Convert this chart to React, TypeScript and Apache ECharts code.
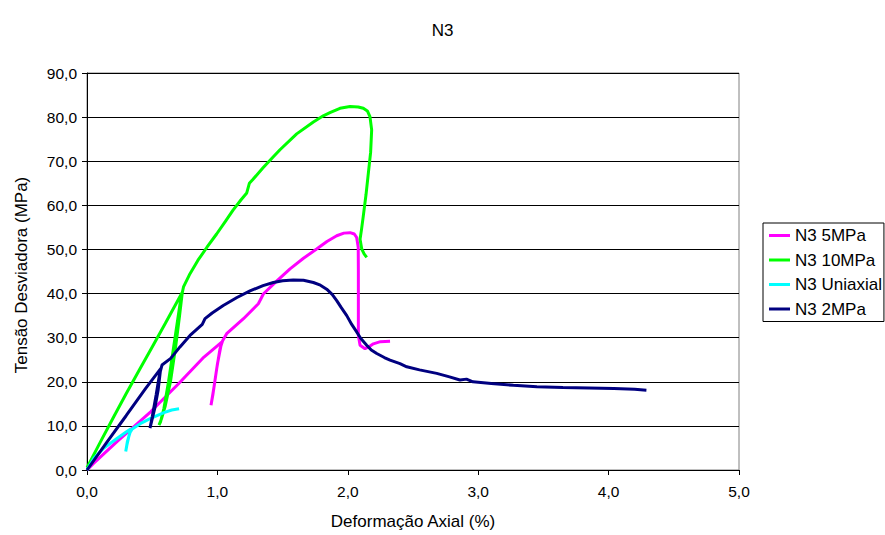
import React, { useEffect, useRef } from "react";
import * as echarts from "echarts";

const seriesNames = ["N3 5MPa", "N3 10MPa", "N3 Uniaxial", "N3 2MPa"];
const seriesColors = ["#FF00FF", "#00FF00", "#00FFFF", "#000080"];

const n3_5MPa: number[][] = [
  [0, 0], [0.05, 1.5], [0.232, 6.5], [0.488, 13.2], [0.7, 19.5], [0.897, 25.6], [1.033, 29.0],
  [1.0, 24], [0.975, 19], [0.951, 14.7], [0.965, 17], [0.995, 23], [1.02, 27.5], [1.04, 29.3],
  [1.071, 30.9], [1.2, 34.3], [1.314, 37.7], [1.33, 38.6], [1.352, 39.9], [1.45, 42.7], [1.557, 45.6],
  [1.66, 48.0], [1.761, 50.1], [1.84, 51.8], [1.915, 53.1], [1.97, 53.7], [2.017, 53.8], [2.05, 53.5],
  [2.068, 52.7], [2.08, 50.5], [2.081, 45], [2.081, 38], [2.081, 30.5], [2.094, 28.3], [2.132, 27.5],
  [2.16, 27.9], [2.196, 28.6], [2.25, 29.1], [2.324, 29.2],
];

const n3_10MPa: number[][] = [
  [0, 0.5], [0.1, 6.2], [0.2, 11.8], [0.3, 17.3], [0.4, 22.6], [0.5, 27.9], [0.6, 33.2], [0.731, 40.3],
  [0.71, 35], [0.68, 28], [0.64, 20], [0.6, 14.5], [0.57, 11.5], [0.552, 10.2], [0.565, 11], [0.59, 14],
  [0.625, 20], [0.66, 27], [0.69, 33], [0.715, 38], [0.74, 41.5], [0.79, 44.5], [0.85, 47.5], [0.92, 50.5],
  [0.994, 53.5], [1.06, 56.3], [1.12, 58.9], [1.18, 61.2], [1.225, 62.8], [1.245, 65.0], [1.27, 65.8],
  [1.35, 68.5], [1.429, 71.0], [1.48, 72.6], [1.608, 76.2], [1.736, 78.9], [1.812, 80.3], [1.863, 81.0],
  [1.94, 82.0], [2.017, 82.4], [2.08, 82.3], [2.119, 82.0], [2.15, 81.4], [2.17, 80.1], [2.183, 77.1],
  [2.175, 72], [2.158, 67.4], [2.14, 62.5], [2.119, 57.6], [2.105, 54.5], [2.094, 52.3], [2.107, 50.1],
  [2.125, 49], [2.145, 48.2],
];

const n3_Uniaxial: number[][] = [
  [0, 0], [0.054, 2.7], [0.13, 5.0], [0.232, 7.2], [0.3, 8.6], [0.335, 9.3], [0.32, 7.5], [0.305, 5.5],
  [0.297, 4.2], [0.31, 6.5], [0.33, 8.5], [0.347, 9.3], [0.42, 10.7], [0.488, 11.7], [0.59, 13.0],
  [0.65, 13.6], [0.706, 13.9],
];

const n3_2MPa: number[][] = [
  [0, 0], [0.15, 6.2], [0.3, 12.3], [0.45, 18.5], [0.565, 23.0], [0.545, 18], [0.52, 14], [0.483, 9.5],
  [0.5, 12], [0.53, 17], [0.555, 21.5], [0.575, 23.8], [0.642, 25.3], [0.713, 27.9], [0.79, 30.5],
  [0.85, 32.1], [0.884, 33.0], [0.905, 34.3], [0.96, 35.6], [1.045, 37.3], [1.15, 39.1], [1.25, 40.6],
  [1.35, 41.8], [1.429, 42.5], [1.5, 42.9], [1.582, 43.1], [1.66, 43.0], [1.736, 42.5], [1.79, 41.9],
  [1.838, 41.0], [1.88, 39.8], [1.915, 38.4], [1.95, 36.8], [1.992, 35.0], [2.03, 33.0], [2.068, 31.3],
  [2.1, 29.8], [2.145, 28.3], [2.18, 27.2], [2.222, 26.4], [2.28, 25.5], [2.324, 24.9], [2.4, 24.1],
  [2.452, 23.4], [2.55, 22.7], [2.682, 21.9], [2.78, 21.1], [2.86, 20.4], [2.91, 20.6], [2.96, 20.0],
  [3.1, 19.6], [3.27, 19.2], [3.45, 18.9], [3.65, 18.7], [3.85, 18.6], [4.04, 18.5], [4.2, 18.3],
  [4.29, 18.1],
];

const allData = [n3_5MPa, n3_10MPa, n3_Uniaxial, n3_2MPa];

const FONT = "Arial, 'Liberation Sans', sans-serif";
const fmt = (v: number) => v.toFixed(1).replace(".", ",");

export default function App() {
  const ref = useRef<HTMLDivElement>(null);
  useEffect(() => {
    if (!ref.current) return;
    const chart = echarts.init(ref.current, null, { renderer: "svg" });
    chart.setOption({
      animation: false,
      backgroundColor: "#fff",
      textStyle: { fontFamily: FONT, color: "#000" },
      title: {
        text: "N3",
        left: "center",
        top: 22,
        padding: 0,
        textStyle: { fontFamily: FONT, fontSize: 17, fontWeight: "normal", color: "#000" },
      },
      legend: {
        orient: "vertical",
        left: 763,
        top: 223,
        data: seriesNames,
        icon: "rect",
        itemWidth: 21,
        itemHeight: 3,
        itemGap: 7.5,
        padding: [4, 2, 4, 6],
        borderColor: "#000",
        borderWidth: 1,
        borderRadius: 0,
        textStyle: { fontFamily: FONT, fontSize: 17, color: "#000", padding: [0, 0, 0, 0] },
      },
      grid: {
        left: 87,
        top: 73,
        right: 146,
        bottom: 63,
        show: true,
        borderColor: "#808080",
        borderWidth: 1,
      },
      graphic: [
        {
          type: "text",
          x: 21,
          y: 275,
          rotation: Math.PI / 2,
          style: {
            text: "Tensão Desviadora (MPa)",
            fontFamily: FONT,
            fontSize: 17,
            fill: "#000",
            align: "center",
            verticalAlign: "middle",
          },
        },
      ],
      xAxis: {
        type: "value",
        min: 0,
        max: 5,
        interval: 1,
        name: "Deformação Axial (%)",
        nameLocation: "middle",
        nameGap: 43,
        nameTextStyle: { fontFamily: FONT, fontSize: 17, color: "#000" },
        axisLine: { show: true, lineStyle: { color: "#000", width: 1 } },
        axisTick: { show: true, inside: false, length: 5, lineStyle: { color: "#000" } },
        axisLabel: { formatter: fmt, fontFamily: FONT, fontSize: 15.5, color: "#000", margin: 13 },
        splitLine: { show: false },
      },
      yAxis: {
        type: "value",
        min: 0,
        max: 90,
        interval: 10,
        axisLine: { show: true, lineStyle: { color: "#000", width: 1 } },
        axisTick: { show: true, inside: false, length: 5, lineStyle: { color: "#000" } },
        axisLabel: { formatter: fmt, fontFamily: FONT, fontSize: 15.5, color: "#000", margin: 10 },
        splitLine: { show: true, lineStyle: { color: "#000", width: 1 } },
      },
      series: seriesNames.map((name, i) => ({
        name,
        type: "line",
        data: allData[i],
        symbol: "none",
        showSymbol: false,
        smooth: false,
        color: seriesColors[i],
        lineStyle: { color: seriesColors[i], width: 3 },
        itemStyle: { color: seriesColors[i] },
      })),
    });
    return () => chart.dispose();
  }, []);
  return (
    <div
      ref={ref}
      style={{ position: "absolute", left: 0, top: 0, width: 885, height: 535 }}
    />
  );
}
